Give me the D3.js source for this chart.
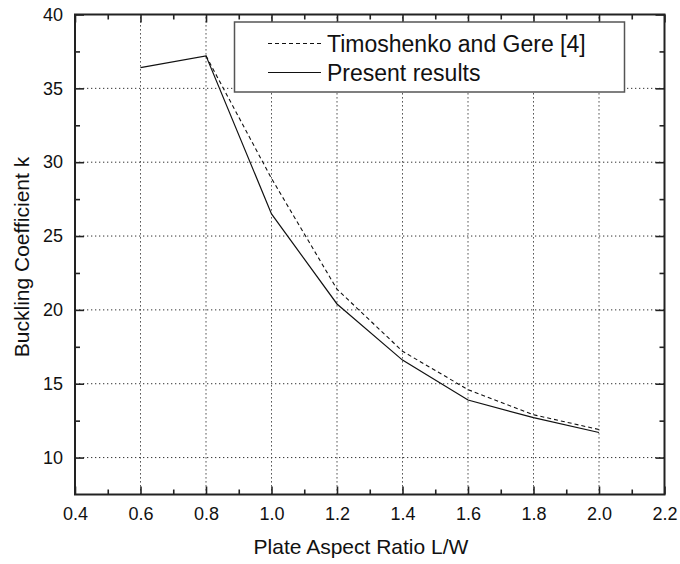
<!DOCTYPE html>
<html>
<head>
<meta charset="utf-8">
<script src="https://cdn.jsdelivr.net/npm/d3@7"></script>
<style>
  html, body { margin: 0; padding: 0; background: #fff; }
  svg text { font-family: "Liberation Sans", Arial, sans-serif; fill: #111; }
</style>
</head>
<body>
<div id="vizcontainer"></div>
<script>
// values
const ratios = [0.6, 0.8, 1.0, 1.2, 1.4, 1.6, 1.8, 2.0];
const present = [36.4, 37.2, 26.5, 20.4, 16.6, 13.9, 12.7, 11.7];
const timoshenko = [null, 37.2, 28.9, 21.4, 17.2, 14.6, 12.9, 11.9];
const xMajor = [0.4, 0.6, 0.8, 1.0, 1.2, 1.4, 1.6, 1.8, 2.0, 2.2];
const xMinor = [0.5, 0.7, 0.9, 1.1, 1.3, 1.5, 1.7, 1.9, 2.1];
const yMajor = [10, 15, 20, 25, 30, 35, 40];
const yMinor = [12.5, 17.5, 22.5, 27.5, 32.5, 37.5];
const legendLabels = ['Timoshenko and Gere [4]', 'Present results'];

const width = 680,
  height = 564;

let viz = d3.select('#vizcontainer')
  .append('svg')
  .attr('width', width)
  .attr('height', height)
  ;

const x = d3.scaleLinear()
  .domain([0.4, 2.2])
  .range([75, 664.5]);

const y = d3.scaleLinear()
  .domain([7.5, 40])
  .range([494.5, 14.5]);

const fmt = d3.format('.1f');

// dotted grid
viz.append('g')
  .selectAll('line')
  .data(xMajor.slice(1, -1))
  .join('line')
  .attr('x1', d => x(d)).attr('x2', d => x(d))
  .attr('y1', y(7.5)).attr('y2', y(40))
  .attr('stroke', '#333')
  .attr('stroke-width', 1)
  .attr('stroke-dasharray', '1.3,2.7');

viz.append('g')
  .selectAll('line')
  .data(yMajor.slice(0, -1))
  .join('line')
  .attr('y1', d => y(d)).attr('y2', d => y(d))
  .attr('x1', x(0.4)).attr('x2', x(2.2))
  .attr('stroke', '#333')
  .attr('stroke-width', 1)
  .attr('stroke-dasharray', '1.3,2.7');

// data lines
const line = d3.line()
  .defined(d => d[1] != null)
  .x(d => x(d[0]))
  .y(d => y(d[1]));

viz.append('path')
  .datum(ratios.map((r, i) => [r, timoshenko[i]]))
  .attr('d', line)
  .attr('fill', 'none')
  .attr('stroke', '#111')
  .attr('stroke-width', 1.1)
  .attr('stroke-dasharray', '4,3');

viz.append('path')
  .datum(ratios.map((r, i) => [r, present[i]]))
  .attr('d', line)
  .attr('fill', 'none')
  .attr('stroke', '#111')
  .attr('stroke-width', 1.2);

// axes, ticks pointing inward on all four sides
viz.append('g')
  .attr('transform', `translate(0,${y(7.5)})`)
  .call(d3.axisBottom(x).tickValues(xMajor).tickSize(-8).tickPadding(13).tickFormat(fmt))
  .attr('class', 'xlab');
viz.append('g')
  .attr('transform', `translate(0,${y(7.5)})`)
  .call(d3.axisBottom(x).tickValues(xMinor).tickSize(-5).tickFormat(''));
viz.append('g')
  .attr('transform', `translate(0,${y(40)})`)
  .call(d3.axisTop(x).tickValues(xMajor).tickSize(-8).tickFormat(''));
viz.append('g')
  .attr('transform', `translate(0,${y(40)})`)
  .call(d3.axisTop(x).tickValues(xMinor).tickSize(-5).tickFormat(''));

viz.append('g')
  .attr('transform', `translate(${x(0.4)},0)`)
  .call(d3.axisLeft(y).tickValues(yMajor).tickSize(-9).tickPadding(12))
  .attr('class', 'ylab');
viz.append('g')
  .attr('transform', `translate(${x(0.4)},0)`)
  .call(d3.axisLeft(y).tickValues(yMinor).tickSize(-5).tickFormat(''));
viz.append('g')
  .attr('transform', `translate(${x(2.2)},0)`)
  .call(d3.axisRight(y).tickValues(yMajor).tickSize(-9).tickFormat(''));
viz.append('g')
  .attr('transform', `translate(${x(2.2)},0)`)
  .call(d3.axisRight(y).tickValues(yMinor).tickSize(-5).tickFormat(''));

viz.selectAll('.tick line')
  .attr('stroke', '#222')
  .attr('stroke-width', 1.6);
viz.selectAll('.domain').remove();
viz.selectAll('.tick text')
  .style('font-size', '18px')
  .style('font-family', '"Liberation Sans", Arial, sans-serif')
  .attr('fill', '#111');

// frame
viz.append('rect')
  .attr('x', x(0.4))
  .attr('y', y(40))
  .attr('width', x(2.2) - x(0.4))
  .attr('height', y(7.5) - y(40))
  .attr('fill', 'none')
  .attr('stroke', '#222')
  .attr('stroke-width', 2);

// axis titles
viz.append('text')
  .attr('x', 361)
  .attr('y', 554)
  .attr('text-anchor', 'middle')
  .style('font-size', '21px')
  .text('Plate Aspect Ratio L/W');

viz.append('text')
  .attr('transform', 'translate(29,257) rotate(-90)')
  .attr('text-anchor', 'middle')
  .style('font-size', '21px')
  .text('Buckling Coefficient k');

// legend
const legend = viz.append('g');
legend.append('rect')
  .attr('x', 234.5)
  .attr('y', 22)
  .attr('width', 390)
  .attr('height', 70)
  .attr('fill', '#fff')
  .attr('stroke', '#555')
  .attr('stroke-width', 1.5);

legend.selectAll('line')
  .data(legendLabels)
  .join('line')
  .attr('x1', 268).attr('x2', 321)
  .attr('y1', (d, i) => 43.5 + i * 29)
  .attr('y2', (d, i) => 43.5 + i * 29)
  .attr('stroke', '#111')
  .attr('stroke-width', 1.1)
  .attr('stroke-dasharray', (d, i) => i === 0 ? '4,3' : null);

legend.selectAll('text')
  .data(legendLabels)
  .join('text')
  .attr('x', 327)
  .attr('y', (d, i) => 43.5 + i * 29)
  .attr('dy', '0.36em')
  .style('font-size', '23px')
  .text(d => d);
</script>
</body>
</html>
